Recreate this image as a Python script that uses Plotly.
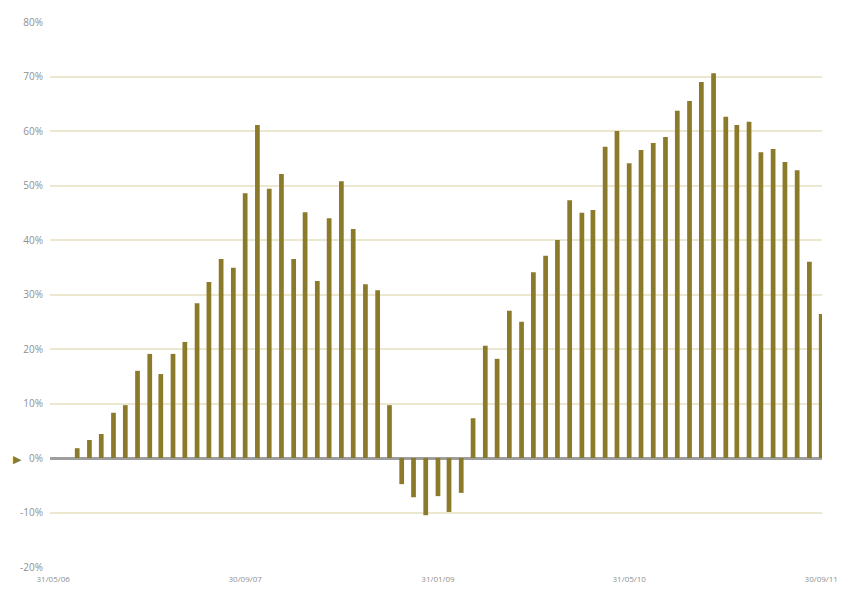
import pandas as pd
import plotly.graph_objects as go

# Monthly observations, end of month, Jul 2006 - Sep 2011
months = pd.date_range("2006-07-31", "2011-09-30", freq="ME")

# Return (%) per month
returns = [
    1.8, 3.3, 4.4, 8.3, 9.7, 16.0, 19.1, 15.4, 19.1, 21.3,
    28.4, 32.3, 36.5, 34.9, 48.6, 61.1, 49.4, 52.1, 36.5, 45.1,
    32.5, 44.0, 50.8, 42.0, 31.9, 30.8, 9.7, -4.8, -7.2, -10.5,
    -7.0, -9.9, -6.4, 7.3, 20.6, 18.2, 27.0, 25.0, 34.1, 37.1,
    40.0, 47.3, 45.0, 45.5, 57.1, 60.0, 54.1, 56.5, 57.8, 58.9,
    63.7, 65.5, 69.0, 70.6, 62.6, 61.1, 61.7, 56.1, 56.7, 54.3,
    52.8, 36.0, 26.4,
]

# Axis labels
x_tick_dates = ["2006-05-31", "2007-09-30", "2009-01-31", "2010-05-31", "2011-09-30"]
x_tick_text = ["31/05/06", "30/09/07", "31/01/09", "31/05/10", "30/09/11"]
y_ticks = [-20, -10, 0, 10, 20, 30, 40, 50, 60, 70, 80]
y_tick_text = [f"{v}%" for v in y_ticks]

bar_color = "#8c7a2b"
grid_color = "#ece8d0"
label_color = "#8f8f8f"

fig = go.Figure(
    go.Bar(
        x=months,
        y=returns,
        marker=dict(color=bar_color, line=dict(width=0)),
        width=12 * 24 * 3600 * 1000,
    )
)

fig.update_layout(
    width=847,
    height=589,
    margin=dict(l=50, r=25, t=22, b=22),
    paper_bgcolor="white",
    plot_bgcolor="white",
    showlegend=False,
    font=dict(family="Open Sans, Noto Sans, sans-serif", size=9, color=label_color),
    xaxis=dict(
        type="date",
        range=["2006-05-23", "2011-10-02"],
        tickvals=x_tick_dates,
        ticktext=x_tick_text,
        showgrid=False,
        showline=False,
        zeroline=False,
        ticks="",
        ticklabelstandoff=6,
        automargin=False,
        tickfont=dict(size=8, color=label_color),
    ),
    yaxis=dict(
        range=[-20, 80],
        tickvals=y_ticks,
        ticktext=y_tick_text,
        showgrid=True,
        gridcolor=grid_color,
        gridwidth=1.5,
        zeroline=True,
        zerolinecolor="#9e9e9e",
        zerolinewidth=3,
        showline=False,
        ticks="",
        ticklabelstandoff=6,
        automargin=False,
        tickfont=dict(size=10, color=label_color),
    ),
    annotations=[
        dict(
            x=-0.051,
            y=0,
            xref="paper",
            yref="y",
            text="▶",
            showarrow=False,
            font=dict(size=11, color=bar_color),
        )
    ],
)

fig.write_html("out.html")
